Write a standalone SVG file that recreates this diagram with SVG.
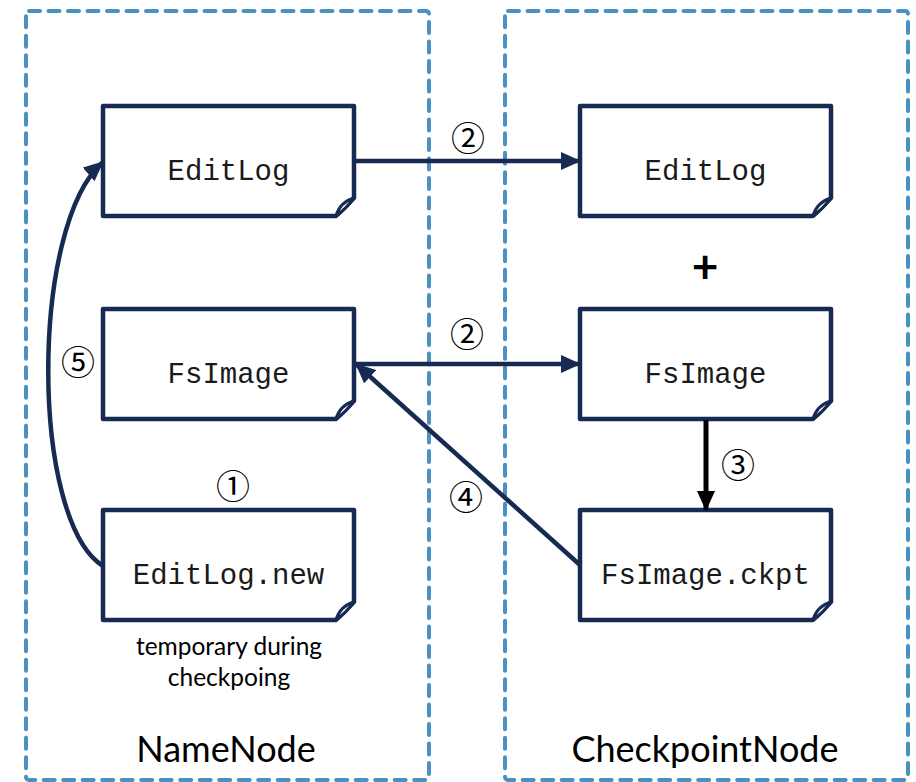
<svg xmlns="http://www.w3.org/2000/svg" width="916" height="782" viewBox="0 0 916 782">
  <style>
    .zone { fill: none; stroke: #4a90c0; stroke-width: 4; stroke-dasharray: 11 8.5; stroke-linecap: round; stroke-linejoin: round; }
    .doc { fill: #ffffff; stroke: #162a52; stroke-width: 4.5; stroke-linejoin: round; }
    .fold { fill: #ffffff; stroke: #162a52; stroke-width: 3; stroke-linejoin: round; }
    .mono { font-family: "Liberation Mono", "Courier New", monospace; font-size: 29px; fill: #1a1a1a; text-anchor: middle; }
    .label { font-family: Lato, "Open Sans", "DejaVu Sans", sans-serif; fill: #000; text-anchor: middle; }
    .num { font-family: "Noto Sans CJK SC", "Noto Sans CJK JP", sans-serif; font-size: 34px; fill: #000; text-anchor: middle; }
    .link { fill: none; stroke: #162a52; stroke-width: 4.5; }
  </style>
  <defs>
    <marker id="head" viewBox="0 0 20 18" refX="19" refY="9" markerWidth="20" markerHeight="18" markerUnits="userSpaceOnUse" orient="auto">
      <path d="M0,0 L20,9 L0,18 Z" fill="#162a52"/>
    </marker>
    <marker id="headBlack" viewBox="0 0 20 18" refX="19" refY="9" markerWidth="20" markerHeight="18" markerUnits="userSpaceOnUse" orient="auto">
      <path d="M0,0 L20,9 L0,18 Z" fill="#000"/>
    </marker>
  </defs>

  <!-- containers -->
  <g id="namenode-zone">
    <rect class="zone" x="26" y="11" width="403" height="769" rx="3"/>
    <text class="label" x="226" y="762" font-size="36">NameNode</text>
  </g>
  <g id="checkpointnode-zone">
    <rect class="zone" x="505" y="11" width="403" height="769" rx="3"/>
    <text class="label" x="705" y="762" font-size="36">CheckpointNode</text>
  </g>

  <!-- NameNode documents -->
  <g id="nn-editlog">
    <path class="doc" d="M103,106 H354 V198 L336,216 H103 Z"/>
    <path class="fold" d="M336,216 Q340,202 354,198 Q346,209 336,216 Z"/>
    <text class="mono" x="228.5" y="180">EditLog</text>
  </g>
  <g id="nn-fsimage">
    <path class="doc" d="M103,309 H354 V401 L336,419 H103 Z"/>
    <path class="fold" d="M336,419 Q340,405 354,401 Q346,412 336,419 Z"/>
    <text class="mono" x="228.5" y="383">FsImage</text>
  </g>
  <g id="nn-editlog-new">
    <path class="doc" d="M103,510 H354 V602 L336,620 H103 Z"/>
    <path class="fold" d="M336,620 Q340,606 354,602 Q346,613 336,620 Z"/>
    <text class="mono" x="228.5" y="584">EditLog.new</text>
    <text class="label" x="229" y="655" font-size="24.5">temporary during</text>
    <text class="label" x="229" y="686" font-size="24.5">checkpoing</text>
  </g>

  <!-- CheckpointNode documents -->
  <g id="cn-editlog">
    <path class="doc" d="M580,106 H831 V198 L813,216 H580 Z"/>
    <path class="fold" d="M813,216 Q817,202 831,198 Q823,209 813,216 Z"/>
    <text class="mono" x="705.5" y="180">EditLog</text>
  </g>
  <g id="cn-plus">
    <text class="label" x="705" y="283" font-size="46" font-weight="bold">+</text>
  </g>
  <g id="cn-fsimage">
    <path class="doc" d="M580,309 H831 V401 L813,419 H580 Z"/>
    <path class="fold" d="M813,419 Q817,405 831,401 Q823,412 813,419 Z"/>
    <text class="mono" x="705.5" y="383">FsImage</text>
  </g>
  <g id="cn-fsimage-ckpt">
    <path class="doc" d="M580,510 H831 V602 L813,620 H580 Z"/>
    <path class="fold" d="M813,620 Q817,606 831,602 Q823,613 813,620 Z"/>
    <text class="mono" x="705.5" y="584">FsImage.ckpt</text>
  </g>

  <!-- connectors -->
  <g id="connectors">
    <path class="link" d="M354,161 H580" marker-end="url(#head)"/>
    <path class="link" d="M356,364 H580" marker-end="url(#head)"/>
    <path class="link" d="M580,565 L356,364" marker-end="url(#head)"/>
    <path d="M706,420 V510" fill="none" stroke="#000" stroke-width="5" marker-end="url(#headBlack)"/>
    <path class="link" d="M103,566 C30,520 30,225 103,162" marker-end="url(#head)"/>
  </g>

  <!-- step numbers -->
  <g id="steps">
    <text class="num" x="468" y="151">②</text>
    <text class="num" x="467" y="347">②</text>
    <text class="num" x="233" y="499">①</text>
    <text class="num" x="738" y="478">③</text>
    <text class="num" x="466" y="510">④</text>
    <text class="num" x="78" y="375">⑤</text>
  </g>
</svg>
